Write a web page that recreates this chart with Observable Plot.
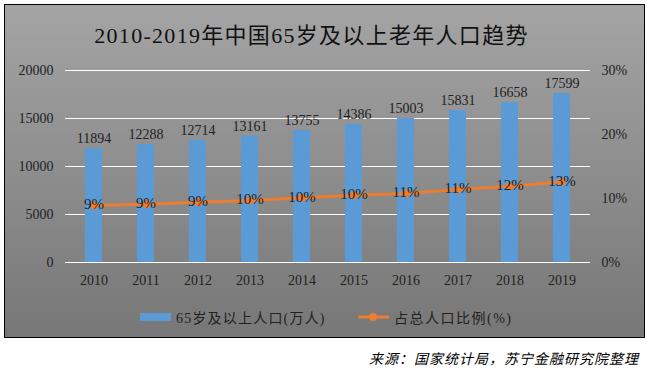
<!DOCTYPE html>
<html><head><meta charset="utf-8">
<script src="https://cdn.jsdelivr.net/npm/d3@7"></script>
<script src="https://cdn.jsdelivr.net/npm/@observablehq/plot@0.6"></script>
<style>
body{margin:0;background:#fff;width:647px;height:370px;position:relative;overflow:hidden;font-family:"Liberation Serif","Noto Sans CJK SC",serif;}
#box{position:absolute;left:4px;top:4px;width:639px;height:332px;border:1px solid #000;background:linear-gradient(#a4a4a4,#777777);}
#title{position:absolute;left:-13px;top:12px;width:100%;text-align:center;font-size:22px;letter-spacing:1.3px;color:#111;font-family:"Liberation Serif","Noto Sans CJK SC",serif;}
#chart{position:absolute;left:0;top:46px;}
#legend{position:absolute;top:302px;left:0;width:100%;font-size:14px;color:#222;}
.lg{position:absolute;display:flex;align-items:center;}
#src{position:absolute;right:8px;top:348px;font-size:14px;letter-spacing:1px;font-style:italic;color:#000;font-family:"Noto Sans CJK SC",sans-serif;}
</style></head>
<body>
<div id="box">
<div id="title">2010-2019年中国65岁及以上老年人口趋势</div>
<div id="chart"></div>
<div id="legend">
 <div class="lg" style="left:135px"><svg width="32" height="10"><rect x="0" y="1" width="31" height="8" fill="#5B9BD5"/></svg><span style="margin-left:4px;letter-spacing:1.2px">65岁及以上人口(万人)</span></div>
 <div class="lg" style="left:352px"><svg width="34" height="10"><line x1="1" x2="32" y1="5" y2="5" stroke="#ED7D31" stroke-width="3"/><circle cx="16" cy="5" r="4" fill="#ED7D31"/></svg><span style="margin-left:3px;letter-spacing:1.5px">占总人口比例(%)</span></div>
</div>
</div>
<div id="src">来源：国家统计局，苏宁金融研究院整理</div>
<script>
const years = ["2010","2011","2012","2013","2014","2015","2016","2017","2018","2019"];
const population = [11894,12288,12714,13161,13755,14386,15003,15831,16658,17599];
const share = [8.9,9.1,9.4,9.7,10.1,10.5,10.8,11.4,11.9,12.6];
const shareLabels = ["9%","9%","9%","10%","10%","10%","11%","11%","12%","13%"];
const leftTicks = [0,5000,10000,15000,20000];
const rightTicks = [0,10,20,30];

const k = 20000/30;
const data = years.map((y,i)=>({year:y,pop:population[i],pct:share[i],pv:share[i]*k,pl:shareLabels[i]}));
const font = "Liberation Serif, Noto Sans CJK SC, serif";

const plot = Plot.plot({
  width:639, height:244,
  marginTop:19, marginBottom:33, marginLeft:60, marginRight:54,
  style:{background:"transparent",fontFamily:font,fontSize:"14px",color:"#222",overflow:"visible"},
  x:{domain:years, paddingInner:0.67, paddingOuter:0.3, label:null},
  y:{domain:[0,20000], label:null},
  marks:[
    Plot.gridY(leftTicks,{stroke:"#fff",strokeOpacity:1,strokeWidth:1}),
    Plot.axisY({ticks:leftTicks, tickFormat:d=>String(d), tickSize:0, tickPadding:12, label:null, fontSize:14}),
    Plot.axisY({anchor:"right", ticks:rightTicks.map(t=>t*k), tickFormat:d=>Math.round(d/k)+"%", tickSize:0, tickPadding:11, label:null, fontSize:14}),
    Plot.axisX({tickSize:0, tickPadding:13, label:null, fontSize:14}),
    Plot.barY(data,{x:"year",y:"pop",fill:"#5B9BD5"}),
    Plot.text(data,{x:"year",y:"pop",text:d=>String(d.pop),dy:-10,fontSize:14,fill:"#222"}),
    Plot.line(data,{x:"year",y:"pv",stroke:"#ED7D31",strokeWidth:3}),
    Plot.dot(data,{x:"year",y:"pv",r:4,fill:"#ED7D31"}),
    Plot.text(data,{x:"year",y:"pv",text:"pl",dy:-1,fontSize:15,fill:"#222"})
  ]
});
document.getElementById("chart").appendChild(plot);
</script>
</body></html>
